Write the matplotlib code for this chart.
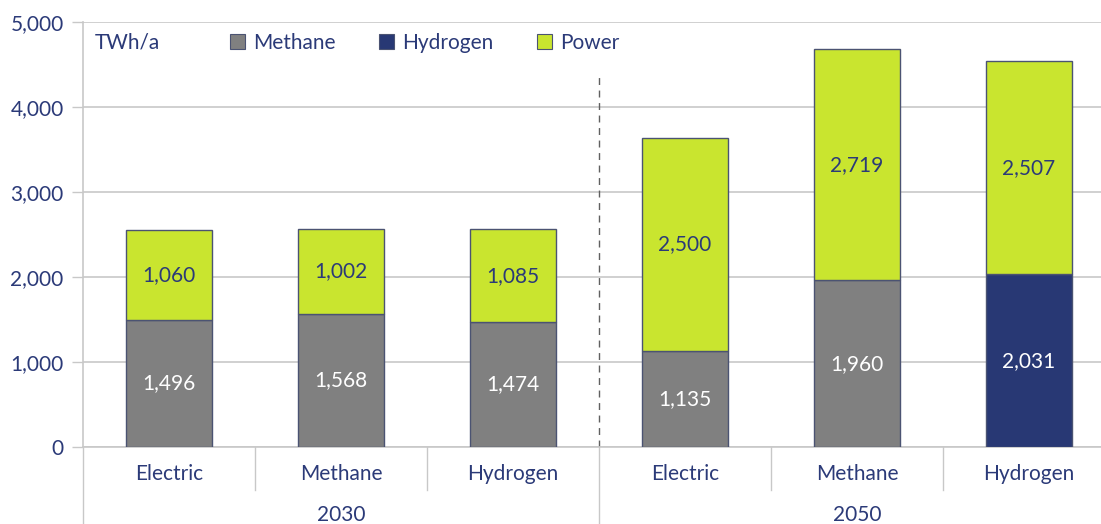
import matplotlib.pyplot as plt
from matplotlib.patches import Patch
import matplotlib.transforms as mtransforms

plt.rcParams['font.family'] = ['Lato', 'DejaVu Sans']

# data
years = ['2030', '2050']
categories = ['Electric', 'Methane', 'Hydrogen', 'Electric', 'Methane', 'Hydrogen']
base_values = [1496, 1568, 1474, 1135, 1960, 2031]
base_kind = ['Methane', 'Methane', 'Methane', 'Methane', 'Methane', 'Hydrogen']
power_values = [1060, 1002, 1085, 2500, 2719, 2507]

navy = '#2b3a78'
colors = {'Methane': '#808080', 'Hydrogen': '#283874', 'Power': '#c9e52f'}
edge = '#4b5372'
grid_col = '#c8c8c8'

fig = plt.figure(figsize=(11.01, 5.24), dpi=100)
ax = fig.add_axes([83 / 1101, 77 / 524, 1032 / 1101, 425 / 524])

x = list(range(len(categories)))
base_cols = [colors[k] for k in base_kind]
ax.bar(x, base_values, width=0.5, color=base_cols, edgecolor=edge, linewidth=1, zorder=3)
ax.bar(x, power_values, width=0.5, bottom=base_values, color=colors['Power'],
       edgecolor=edge, linewidth=1, zorder=3)

# value labels
for i in x:
    ax.text(i, base_values[i] / 2, f'{base_values[i]:,}', ha='center', va='center',
            color='white', fontsize=15, zorder=4)
    ax.text(i, base_values[i] + power_values[i] / 2, f'{power_values[i]:,}', ha='center',
            va='center', color=navy, fontsize=15, zorder=4)

ax.set_xlim(-0.5, 5.5)
ax.set_ylim(0, 5000)
ax.set_yticks(range(0, 5001, 1000))
ax.set_yticklabels([f'{v:,}' for v in range(0, 5001, 1000)])
ax.yaxis.grid(True, color=grid_col, linewidth=1.2, zorder=0)
ax.set_axisbelow(True)
ax.tick_params(axis='y', length=8, width=1, color=grid_col, labelcolor=navy, labelsize=15, pad=6)
ax.set_xticks([])

for s in ['top', 'right']:
    ax.spines[s].set_visible(False)
ax.spines['left'].set_color(grid_col)
ax.spines['bottom'].set_color(grid_col)
ax.spines['left'].set_linewidth(1.2)
ax.spines['bottom'].set_linewidth(1.2)

# dashed divider between the two years
ax.plot([2.5, 2.5], [0, 4350], color='#606060', linestyle=(0, (5, 4)), linewidth=1, zorder=2)

# category axis with separators
trans = mtransforms.blended_transform_factory(ax.transData, ax.transAxes)
for i, c in enumerate(categories):
    ax.text(i, -0.063, c, transform=trans, ha='center', va='center', color=navy, fontsize=15)
for xs in [0.5, 1.5, 3.5, 4.5]:
    ax.plot([xs, xs], [0, -0.1], transform=trans, color=grid_col, linewidth=1, clip_on=False)
for xs in [-0.5, 2.5, 5.5]:
    ax.plot([xs, xs], [0, -0.2], transform=trans, color=grid_col, linewidth=1, clip_on=False)
for j, y in enumerate(years):
    ax.text(1 + 3 * j, -0.161, y, transform=trans, ha='center', va='center', color=navy, fontsize=15)

# unit label and legend
fig.text(95 / 1101, 1 - 43 / 524, 'TWh/a', ha='left', va='center', color=navy, fontsize=15)
handles = [Patch(facecolor=colors[k], edgecolor=edge, linewidth=0.8) for k in ['Methane', 'Hydrogen', 'Power']]
leg = fig.legend(handles, ['Methane', 'Hydrogen', 'Power'], ncol=3, loc='center left',
                 bbox_to_anchor=(230 / 1101, 1 - 43 / 524), frameon=False, fontsize=15,
                 handlelength=0.7, handleheight=0.7, handletextpad=0.4, columnspacing=2.1,
                 borderaxespad=0, borderpad=0)
for t in leg.get_texts():
    t.set_color(navy)

fig.savefig('out.png', dpi=100)
